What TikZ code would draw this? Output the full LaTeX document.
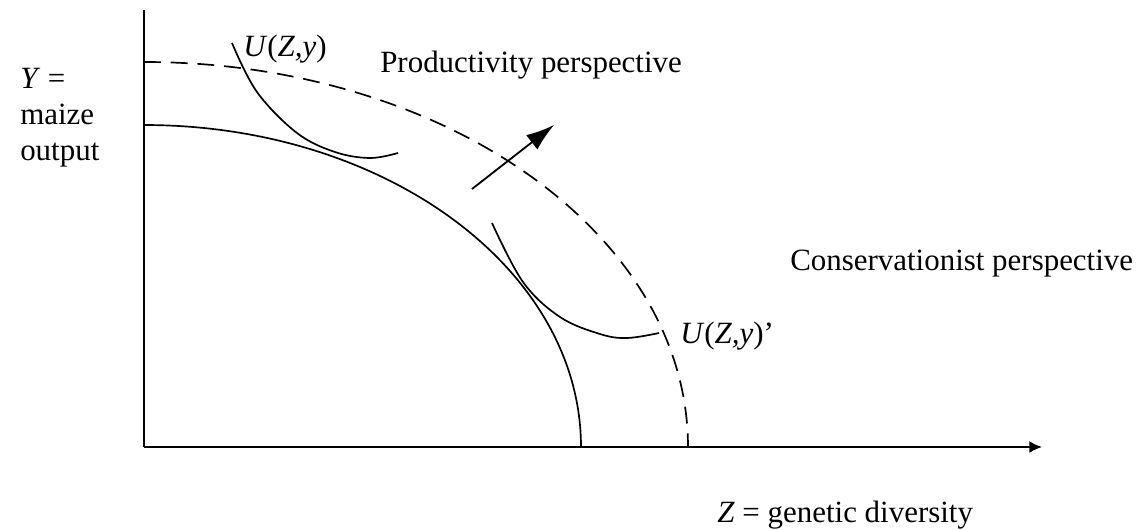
\documentclass[tikz,border=0pt]{standalone}
\usepackage{fontspec}
\setmainfont{Liberation Serif}
\usepackage{tikz}
\usetikzlibrary{arrows.meta,positioning}

\begin{document}
\begin{tikzpicture}[
  x=0.025cm, y=-0.025cm,
  font=\fontsize{22}{25.5}\selectfont,
  axis/.style={line width=1.3pt, -{Latex[length=9pt,width=8.5pt]}},
  curve/.style={line width=1.2pt},
  frontier/.style={curve, dash pattern=on 12pt off 7pt},
  shift arrow/.style={line width=1.3pt, -{Latex[length=20pt,width=13pt]}},
  lab/.style={inner sep=0pt, anchor=base west}
]
\useasboundingbox (0,0) rectangle (1144,529);

% ---- axes ----
\coordinate (o) at (144,447);
\coordinate (ytop) at (144,10);
\coordinate (xend) at (1042,447);
\draw[line width=1.3pt] (o) -- (ytop);
\draw[axis] (o) -- (xend);

% ---- frontiers ----
\draw[curve] (144,125) arc[start angle=-90, end angle=0, x radius=437, y radius=322];
\draw[frontier] (144,62) arc[start angle=-90, end angle=0, x radius=544, y radius=385];

% ---- indifference curves ----
\draw[curve] plot[smooth, tension=0.6] coordinates
  {(232,43) (257,92) (297,133) (335,152) (370,158) (398,153)};
\draw[curve] plot[smooth, tension=0.6] coordinates
  {(492,223) (523,282) (560,317) (600,334) (627,338) (659,333)};

% ---- outward shift ----
\coordinate (s0) at (472,189);
\coordinate (s1) at (554,125);
\draw[shift arrow] (s0) -- (s1);

% ---- labels ----
\node[lab, anchor=north west, align=left] (ylab) at (20,68) {\textit{Y} =\\maize\\output};
\node[lab] (u1) at (243,56) {\textit{U}(\textit{Z,y})};
\node[lab] (prod) at (380,72) {Productivity perspective};
\node[lab] (cons) at (790,270) {Conservationist perspective};
\node[lab] (u2) at (680,343) {\textit{U}(\textit{Z,y})'};
\node[lab] (zlab) at (717,522) {\textit{Z} = genetic diversity};
\end{tikzpicture}
\end{document}
